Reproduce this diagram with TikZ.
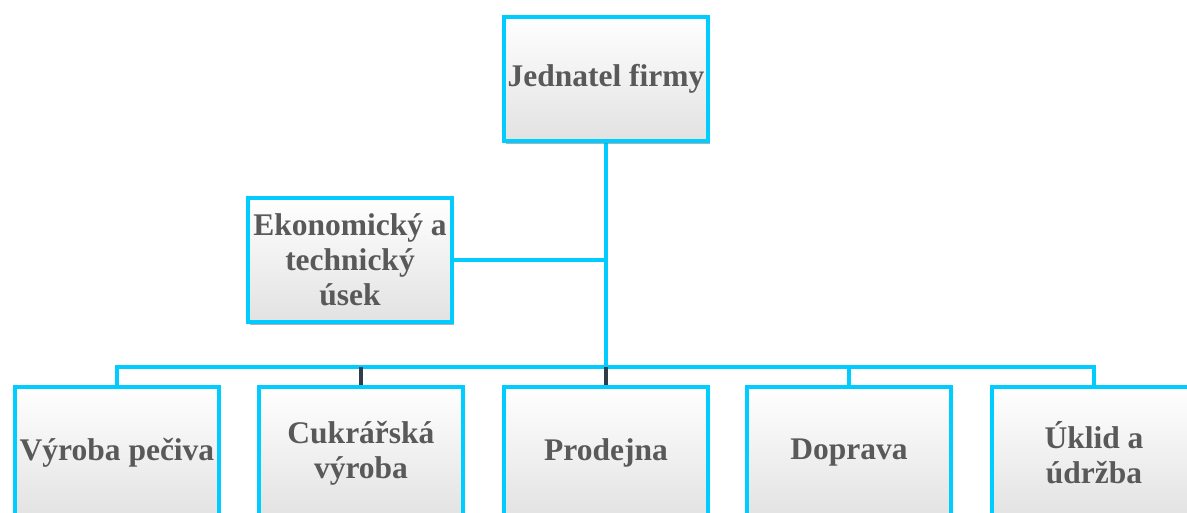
\documentclass[tikz,border=0pt]{standalone}
\usepackage{fontspec}
\setmainfont{Liberation Serif}
\usetikzlibrary{shadows}
\definecolor{cyanline}{RGB}{0,204,255}
\definecolor{darkline}{RGB}{47,61,77}
\definecolor{txtgray}{RGB}{89,89,89}
\definecolor{boxbottom}{RGB}{226,226,226}
\tikzset{
  orgbox/.style={draw=cyanline, line width=4.5pt, minimum width=204pt, minimum height=124pt,
    inner sep=0pt, outer sep=0pt, top color=white, middle color=white, bottom color=boxbottom,
    drop shadow={shadow xshift=2pt, shadow yshift=-3pt, opacity=0.3, fill=black!60},
    font=\fontsize{31.5}{35}\selectfont\bfseries, text=txtgray, align=center},
  lowbox/.style={orgbox, minimum height=132pt},
  cline/.style={draw=cyanline, line width=4pt},
  dline/.style={draw=darkline, line width=3.5pt}
}
\begin{document}
\begin{tikzpicture}[x=1pt,y=-1pt]
\clip (0,0) rectangle (1187,513);
\fill[white] (0,0) rectangle (1187,513);
% nodes
\node[orgbox] (top) at (606,79) {Jednatel firmy};
\node[orgbox] (eko) at (350,260) {Ekonomický a\\technický\\úsek};
\node[lowbox] (b1) at (117,453) {Výroba pečiva};
\node[lowbox] (b2) at (361,453) {Cukrářská\\výroba};
\node[lowbox] (b3) at (606,453) {Prodejna};
\node[lowbox] (b4) at (849,453) {Doprava};
\node[lowbox] (b5) at (1094,453) {Úklid a\\údržba};
% bus coordinates
\coordinate (j) at (606,367);
\coordinate (e) at (606,260);
\coordinate (l) at (117,367);
\coordinate (r) at (1094,367);
\coordinate (m2) at (361,367);
\coordinate (m4) at (849,367);
% connectors
\draw[cline] (top.south) -- (j);
\draw[cline] (e) -- (eko.east);
\draw[cline] (b1.north) -- (l) -- (r) -- (b5.north);
\draw[cline] (m4) -- (b4.north);
\draw[dline] (m2) -- (b2.north);
\draw[dline] (j) -- (b3.north);
% redraw boxes on top of connectors
\node[orgbox] at (606,79) {Jednatel firmy};
\node[orgbox] at (350,260) {Ekonomický a\\technický\\úsek};
\node[lowbox] at (117,453) {Výroba pečiva};
\node[lowbox] at (361,453) {Cukrářská\\výroba};
\node[lowbox] at (606,453) {Prodejna};
\node[lowbox] at (849,453) {Doprava};
\node[lowbox] at (1094,453) {Úklid a\\údržba};
\end{tikzpicture}
\end{document}
